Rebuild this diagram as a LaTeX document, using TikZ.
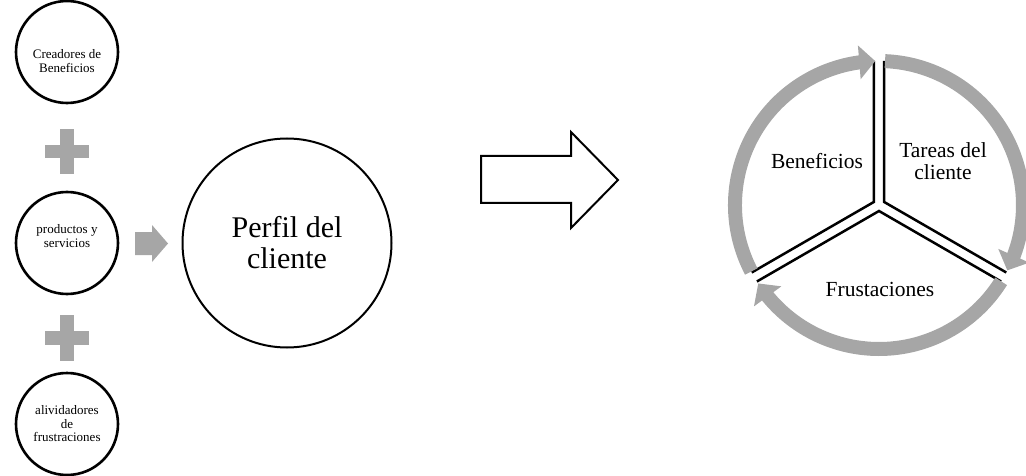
\documentclass[tikz,border=0pt]{standalone}
\usepackage{fontspec}
\setmainfont{Liberation Serif}
\usetikzlibrary{arrows.meta,bending}
\definecolor{cyclegray}{HTML}{A6A6A6}
\tikzset{
	smallcirc/.style={circle, draw=black, line width=2.6pt, minimum size=102pt, inner sep=0pt},
	smalltext/.style={align=center, inner sep=0pt, font=\fontsize{13}{13.5}\selectfont},
	bigcirc/.style={circle, draw=black, line width=2pt, minimum size=209pt, inner sep=0pt, align=center, font=\fontsize{30}{31}\selectfont},
	cyctext/.style={align=center, font=\fontsize{21.5}{22}\selectfont},
	plusbar/.style={fill=cyclegray},
	seg/.style={draw=black, line width=2.5pt},
	ringarrow/.style={draw=cyclegray, line width=14pt, -{Triangle[width=33pt, length=16pt, flex]}}
}
\begin{document}
\begin{tikzpicture}[x=1pt, y=-1pt]
	\useasboundingbox (0,0) rectangle (1026,476);
	\node[smallcirc] (creadores) at (67,52) {};
	\node[smalltext] (creadorestxt) at ([yshift=-9pt]creadores.center) {Creadores de\\Beneficios};
	\node[smallcirc] (productos) at (67,243) {};
	\node[smalltext] (productostxt) at ([yshift=7pt]productos.center) {productos y\\servicios};
	\node[smallcirc] (aliviadores) at (67,424) {};
	\node[smalltext] (aliviadorestxt) at (aliviadores.center) {alividadores\\de\\frustraciones};
	\fill[plusbar] (45,145) rectangle (89,158); \fill[plusbar] (60,129) rectangle (74,174);
	\fill[plusbar] (45,331) rectangle (89,345); \fill[plusbar] (60,315) rectangle (74,361);
	\fill[cyclegray] (135,232) -- (152,232) -- (152,225) -- (168,243.5) -- (152,262) -- (152,255) -- (135,255) -- cycle;
	\node[bigcirc] (perfil) at (287,243) {Perfil del\\cliente};
	\draw[line width=2pt, line join=miter] (481,156) -- (571,156) -- (571,132) -- (618,180) -- (571,228) -- (571,203) -- (481,203) -- cycle;

	\coordinate (cyc) at (879,205);
	\coordinate (apexB) at ([shift={(210:6)}]cyc);
	\coordinate (apexT) at ([shift={(330:6)}]cyc);
	\coordinate (apexF) at ([shift={(90:6)}]cyc);
	\draw[seg] (apexB) ++(150:141) -- (apexB) -- ++(270:141);
	\draw[seg] (apexT) ++(270:141) -- (apexT) -- ++(30:141);
	\draw[seg] (apexF) ++(30:141) -- (apexF) -- ++(150:141);
	\draw[ringarrow] ([shift={(152.5:144)}]cyc) arc[start angle=152.5, end angle=268.5, radius=144];
	\draw[ringarrow] ([shift={(272.4:144)}]cyc) arc[start angle=272.4, end angle=387, radius=144];
	\draw[ringarrow] ([shift={(32:144)}]cyc) arc[start angle=32, end angle=147, radius=144];
	\node[cyctext] (beneficios) at (817,161) {Beneficios};
	\node[cyctext] (tareas) at (943,161) {Tareas del\\cliente};
	\node[cyctext] (frustaciones) at (880,289) {Frustaciones};
\end{tikzpicture}
\end{document}
